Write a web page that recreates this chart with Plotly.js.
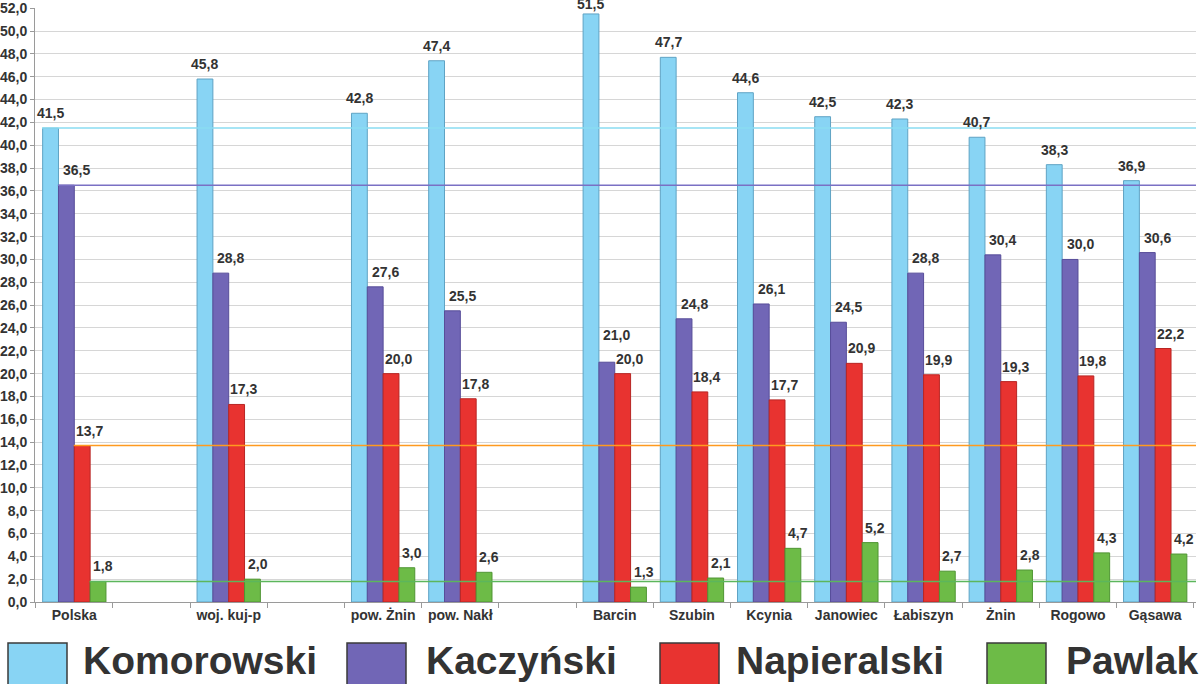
<!DOCTYPE html>
<html>
<head>
<meta charset="utf-8">
<script src="https://cdn.plot.ly/plotly-3.0.1.min.js"></script>
<style>
  html, body { margin: 0; padding: 0; background: #fff; }
  #chart { width: 1200px; height: 684px; }
</style>
</head>
<body>
<div id="chart"></div>
<script>
// empty slots are distinct blank category names
var categories = ["Polska", " ", "woj. kuj-p", "  ", "pow. Żnin", "pow. Nakł", "   ",
                  "Barcin", "Szubin", "Kcynia", "Janowiec", "Łabiszyn", "Żnin", "Rogowo", "Gąsawa"];
var komorowski  = [41.5, null, 45.8, null, 42.8, 47.4, null, 51.5, 47.7, 44.6, 42.5, 42.3, 40.7, 38.3, 36.9];
var kaczynski   = [36.5, null, 28.8, null, 27.6, 25.5, null, 21.0, 24.8, 26.1, 24.5, 28.8, 30.4, 30.0, 30.6];
var napieralski = [13.7, null, 17.3, null, 20.0, 17.8, null, 20.0, 18.4, 17.7, 20.9, 19.9, 19.3, 19.8, 22.2];
var pawlak      = [1.8, null, 2.0, null, 3.0, 2.6, null, 1.3, 2.1, 4.7, 5.2, 2.7, 2.8, 4.3, 4.2];
var names = ["Komorowski", "Kaczyński", "Napieralski", "Pawlak"];

var fills   = ["#88d4f4", "#7166b6", "#e83330", "#6dbb47"];
var borders = ["#5fa3c4", "#574d99", "#b82523", "#4f9533"];
var refLines = ["#8adcf2", "#7a70c4", "#ff9a1f", "#5cb65c"];
var series = [komorowski, kaczynski, napieralski, pawlak];

// plot area in pixels, used to place the hand-made legend
var plotL = 35, plotR = 1196, plotT = 8, plotB = 602;
var yMax = 52.02;
var bargap = 0.18;
function px(x) { return (x - plotL) / (plotR - plotL); }
function py(y) { return (plotB - y) / (plotB - plotT); }

var data = series.map(function (vals, i) {
  return {
    type: "bar",
    x: categories,
    y: vals,
    name: names[i],
    marker: { color: fills[i], line: { color: borders[i], width: 1 } },
    hoverinfo: "skip"
  };
});

var shapes = [];
var annotations = [];

// value labels, sitting a little right of the bar centre as in the original
var barPx = (plotR - plotL) / categories.length * (1 - bargap) / series.length;
var yScale = (plotB - plotT) / yMax;
var labelNudge = [0, 10, 7, 5];
series.forEach(function (vals, i) {
  vals.forEach(function (v, j) {
    if (v === null) return;
    var next = series[i + 1] ? series[i + 1][j] : null;
    var lift = (next !== null && Math.abs(next - v) < 2) ? 17 : 5;
    // keep the label (about 17px tall) from running off the top
    var room = plotB - v * yScale - 15;
    if (lift > room) lift = Math.max(room, 0);
    annotations.push({
      xref: "x", yref: "y", x: categories[j], y: v,
      xshift: (i - (series.length - 1) / 2) * barPx + labelNudge[i],
      yshift: lift, yanchor: "bottom", showarrow: false,
      text: "<b>" + v.toFixed(1).replace(".", ",") + "</b>",
      font: { family: "Liberation Sans, Arial", size: 14, color: "#333" }
    });
  });
});

// reference lines at the Polska level of each candidate
series.forEach(function (vals, i) {
  shapes.push({
    type: "line", xref: "paper", yref: "y",
    x0: px(42 + i * barPx), x1: 1, y0: vals[0], y1: vals[0],
    line: { color: refLines[i], width: 1.5 }, layer: "above"
  });
});

var boxX = [8, 347, 660, 987];
var textX = [81, 424, 734, 1064];
names.forEach(function (n, i) {
  shapes.push({
    type: "rect", xref: "paper", yref: "paper",
    x0: px(boxX[i]), x1: px(boxX[i] + 59), y0: py(643), y1: py(685),
    fillcolor: fills[i], line: { color: "#3a3a3a", width: 1.5 }
  });
  annotations.push({
    xref: "paper", yref: "paper", x: px(textX[i]), y: py(660),
    xanchor: "left", yanchor: "middle", showarrow: false,
    text: "<b>" + n + "</b>",
    font: { family: "Liberation Sans, Arial", size: 39, color: "#333" }
  });
});

var layout = {
  width: 1200,
  height: 684,
  margin: { l: plotL, r: 1200 - plotR, t: plotT, b: 684 - plotB },
  paper_bgcolor: "#fff",
  plot_bgcolor: "#fff",
  separators: ", ",
  barmode: "group",
  bargap: bargap,
  bargroupgap: 0,
  showlegend: false,
  font: { family: "Liberation Sans, Arial", color: "#333" },
  xaxis: {
    type: "category",
    categoryorder: "array",
    categoryarray: categories,
    showline: true, linecolor: "#9a9a9a", linewidth: 1,
    ticks: "outside", tickson: "boundaries", ticklen: 5, tickcolor: "#9a9a9a",
    showgrid: false,
    tickfont: { family: "Liberation Sans, Arial", size: 14, color: "#333", weight: "bold" },
    fixedrange: true
  },
  yaxis: {
    range: [0, yMax],
    tick0: 0,
    dtick: 2,
    tickformat: ".1f",
    showline: true, linecolor: "#9a9a9a", linewidth: 1,
    ticks: "outside", ticklen: 4, tickcolor: "#9a9a9a",
    showgrid: true, gridcolor: "#d6d6d6", gridwidth: 1,
    zeroline: false,
    tickfont: { family: "Liberation Sans, Arial", size: 14, color: "#333", weight: "bold" },
    fixedrange: true
  },
  shapes: shapes,
  annotations: annotations
};

Plotly.newPlot("chart", data, layout, { displayModeBar: false, staticPlot: true });
</script>
</body>
</html>
